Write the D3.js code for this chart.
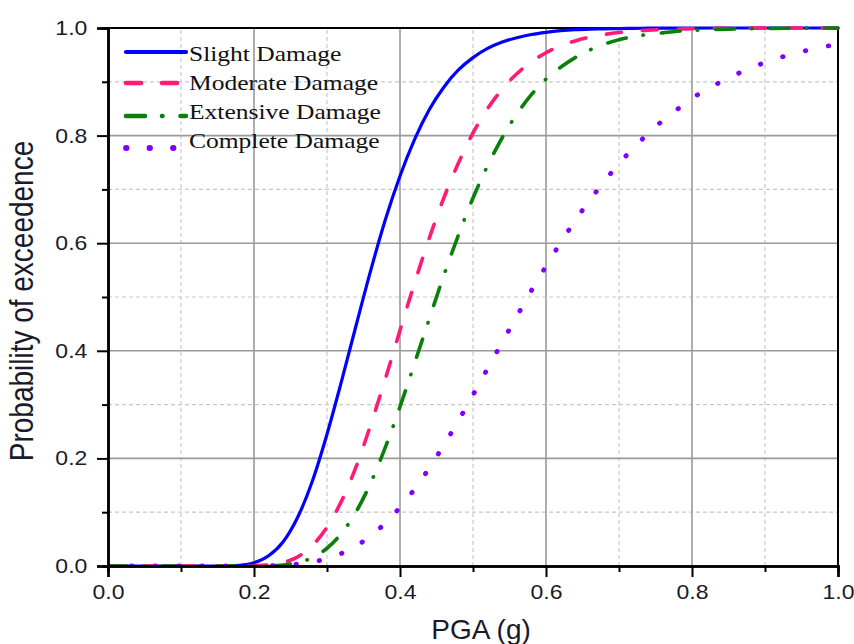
<!DOCTYPE html>
<html>
<head>
<meta charset="utf-8">
<script src="https://cdn.jsdelivr.net/npm/d3@7"></script>
<style>
  body { margin: 0; background: #fff; }
  svg { display: block; }
</style>
</head>
<body>
<div id="chart"></div>
<script>
// PGA values (g) shared by all four fragility curves
const pga = [0, 0.05, 0.10, 0.14, 0.16, 0.18, 0.20, 0.22, 0.24, 0.26, 0.28, 0.30, 0.32, 0.34,
    0.36, 0.38, 0.40, 0.42, 0.44, 0.46, 0.48, 0.50, 0.52, 0.54, 0.56, 0.58, 0.60, 0.62, 0.64,
    0.66, 0.68, 0.70, 0.72, 0.74, 0.76, 0.78, 0.80, 0.85, 0.90, 0.95, 1.00];

// probability of exceedence
const slight = [0, 0, 0, 0, 0.0002, 0.0014, 0.006, 0.019, 0.045, 0.091, 0.158, 0.245, 0.344, 0.448,
    0.550, 0.644, 0.725, 0.793, 0.848, 0.890, 0.922, 0.945, 0.962, 0.974, 0.982, 0.988, 0.992, 0.995,
    0.997, 0.998, 0.9985, 0.999, 0.9994, 0.9996, 0.9997, 0.9998, 0.9999, 1, 1, 1, 1];
const moderate = [0, 0, 0, 0, 0, 0, 0.0005, 0.002, 0.0066, 0.017, 0.038, 0.072, 0.121, 0.185,
    0.263, 0.348, 0.438, 0.526, 0.609, 0.684, 0.749, 0.805, 0.850, 0.886, 0.915, 0.937, 0.954, 0.967,
    0.976, 0.983, 0.988, 0.9915, 0.994, 0.996, 0.997, 0.998, 0.9986, 0.9995, 0.9999, 1, 1];
const extensive = [0, 0, 0, 0, 0, 0, 0, 0.0006, 0.002, 0.0063, 0.0155, 0.033, 0.061, 0.101,
    0.155, 0.221, 0.296, 0.377, 0.459, 0.540, 0.615, 0.684, 0.744, 0.796, 0.840, 0.876, 0.905, 0.927,
    0.945, 0.959, 0.970, 0.978, 0.984, 0.988, 0.991, 0.994, 0.9955, 0.998, 0.9992, 0.9997, 1];
const complete = [0, 0, 0, 0, 0, 0, 0, 0.0006, 0.0015, 0.0036, 0.0074, 0.0137, 0.0235, 0.0375,
    0.056, 0.080, 0.109, 0.143, 0.182, 0.225, 0.270, 0.318, 0.367, 0.416, 0.464, 0.512, 0.557, 0.601,
    0.642, 0.680, 0.715, 0.748, 0.777, 0.804, 0.828, 0.849, 0.869, 0.907, 0.936, 0.956, 0.970];

const seriesNames = ["Slight Damage", "Moderate Damage", "Extensive Damage", "Complete Damage"];
const majorTicks = [0, 0.2, 0.4, 0.6, 0.8, 1.0];
const minorTicks = [0.1, 0.3, 0.5, 0.7, 0.9];

const W = 854, H = 644;
const svg = d3.select("#chart").append("svg")
    .attr("width", W)
    .attr("height", H);

const x = d3.scaleLinear().domain([0, 1]).range([108, 838]);
const y = d3.scaleLinear().domain([0, 1]).range([566, 28]);

// gridlines: minor dashed first, then major solid
const grid = svg.append("g");
grid.selectAll(".vminor").data(minorTicks).join("line")
    .attr("x1", d => x(d)).attr("x2", d => x(d))
    .attr("y1", y(0)).attr("y2", y(1))
    .attr("stroke", "#c8c8c8").attr("stroke-width", 1.2).attr("stroke-dasharray", "4,3");
grid.selectAll(".hminor").data(minorTicks).join("line")
    .attr("y1", d => y(d)).attr("y2", d => y(d))
    .attr("x1", x(0)).attr("x2", x(1))
    .attr("stroke", "#c8c8c8").attr("stroke-width", 1.2).attr("stroke-dasharray", "4,3");
grid.selectAll(".vmajor").data(majorTicks.slice(1, -1)).join("line")
    .attr("x1", d => x(d)).attr("x2", d => x(d))
    .attr("y1", y(0)).attr("y2", y(1))
    .attr("stroke", "#9a9a9a").attr("stroke-width", 1.6);
grid.selectAll(".hmajor").data(majorTicks.slice(1, -1)).join("line")
    .attr("y1", d => y(d)).attr("y2", d => y(d))
    .attr("x1", x(0)).attr("x2", x(1))
    .attr("stroke", "#9a9a9a").attr("stroke-width", 1.6);

// frame top/right
svg.append("path")
    .attr("d", `M${x(0)},${y(1)}H${x(1)}V${y(0)}`)
    .attr("fill", "none").attr("stroke", "#000").attr("stroke-width", 2);

// clip for curves
svg.append("defs").append("clipPath").attr("id", "plotClip")
    .append("rect")
    .attr("x", x(0)).attr("y", y(1) - 3)
    .attr("width", x(1) - x(0) + 2).attr("height", y(0) - y(1) + 3);

const styles = [
    { color: "#0000ff", dash: null, width: 3.2 },
    { color: "#ff1a78", dash: "15,21", width: 3.6 },
    { color: "#0a7f0a", dash: "19,17,0.5,18", width: 3.6 },
    { color: "#7f00ff", dash: "0.5,23", width: 4.8 }
];
const allSeries = [slight, moderate, extensive, complete];

const line = d3.line()
    .x((d, i) => x(pga[i]))
    .y(d => y(d))
    .curve(d3.curveMonotoneX);

const curves = svg.append("g").attr("clip-path", "url(#plotClip)");
allSeries.forEach((vals, k) => {
    curves.append("path")
        .datum(vals)
        .attr("d", line)
        .attr("fill", "none")
        .attr("stroke", styles[k].color)
        .attr("stroke-width", styles[k].width)
        .attr("stroke-linecap", "round")
        .attr("stroke-dasharray", styles[k].dash);
});

// axes
const xAxisMajor = d3.axisBottom(x).tickValues(majorTicks).tickFormat(d3.format(".1f"))
    .tickSize(11).tickPadding(8);
const xAxisMinor = d3.axisBottom(x).tickValues(minorTicks).tickFormat("").tickSize(6);
const yAxisMajor = d3.axisLeft(y).tickValues(majorTicks).tickFormat(d3.format(".1f"))
    .tickSize(11).tickPadding(7);
const yAxisMinor = d3.axisLeft(y).tickValues(minorTicks).tickFormat("").tickSize(6);

function styleAxis(g) {
    g.select(".domain").attr("stroke", "#000").attr("stroke-width", 2.5);
    g.selectAll(".tick line").attr("stroke", "#000").attr("stroke-width", 2);
    g.selectAll(".tick text")
        .attr("font-family", "Liberation Sans, Arial, sans-serif")
        .attr("font-size", 20)
        .attr("fill", "#1a1a2a");
}

svg.append("g").attr("transform", `translate(0,${y(0)})`).call(xAxisMinor).call(styleAxis);
const gx = svg.append("g").attr("transform", `translate(0,${y(0)})`).call(xAxisMajor).call(styleAxis);
gx.selectAll(".tick text").attr("transform", "scale(1.15,1)");
svg.append("g").attr("transform", `translate(${x(0)},0)`).call(yAxisMinor).call(styleAxis);
const gy = svg.append("g").attr("transform", `translate(${x(0)},0)`).call(yAxisMajor).call(styleAxis);
gy.selectAll(".tick text").attr("transform", "scale(1.15,1)");

// axis titles
svg.append("text")
    .attr("x", 481).attr("y", 639)
    .attr("text-anchor", "middle")
    .attr("font-family", "Liberation Sans, Arial, sans-serif")
    .attr("font-size", 28)
    .attr("fill", "#1a1a2a")
    .text("PGA (g)");

svg.append("text")
    .attr("transform", "translate(33,301) scale(1.2,1) rotate(-90)")
    .attr("text-anchor", "middle")
    .attr("font-family", "Liberation Sans, Arial, sans-serif")
    .attr("font-size", 28)
    .attr("fill", "#1a1a2a")
    .text("Probability of exceedence");

// legend
const sampleY = [52, 83, 116, 148];
const textY = [61, 90, 119, 148];
const legend = svg.append("g");
seriesNames.forEach((name, k) => {
    legend.append("line")
        .attr("x1", 126).attr("x2", 186)
        .attr("y1", sampleY[k]).attr("y2", sampleY[k])
        .attr("stroke", styles[k].color)
        .attr("stroke-width", styles[k].width + 1)
        .attr("stroke-linecap", "round")
        .attr("stroke-dasharray", styles[k].dash);
    legend.append("text")
        .attr("transform", `translate(189,${textY[k]}) scale(1.16,1)`)
        .attr("font-family", "Liberation Serif, Times New Roman, serif")
        .attr("font-size", 22)
        .attr("fill", "#111")
        .text(name);
});
</script>
</body>
</html>
